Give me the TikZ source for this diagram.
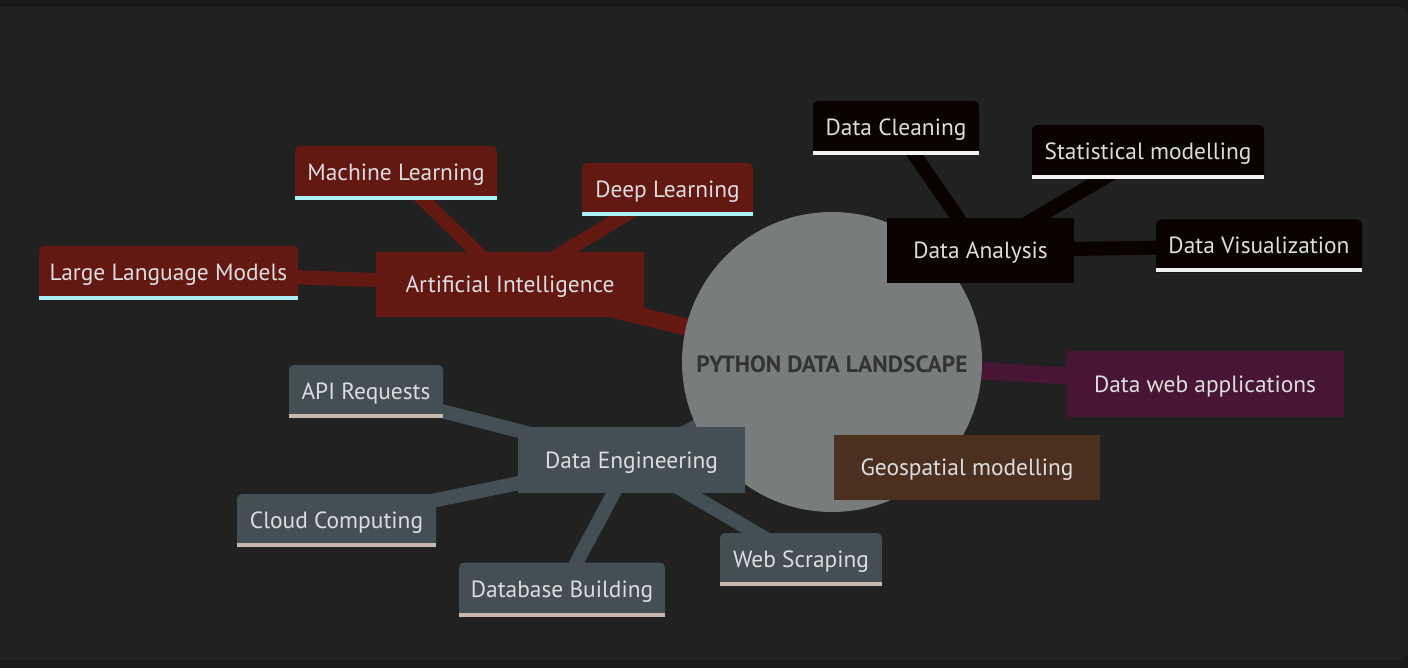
\documentclass[tikz,border=0pt]{standalone}
\usepackage{fontspec}
\setmainfont{PT Sans}
\pgfdeclarelayer{bgl}
\pgfdeclarelayer{edgel}
\pgfdeclarelayer{boxl}
\pgfsetlayers{bgl,edgel,boxl,main}
\definecolor{outerbg}{HTML}{1A1A1A}
\definecolor{innerbg}{HTML}{212121}
\definecolor{rootc}{HTML}{787C7D}
\definecolor{roottext}{HTML}{333333}
\definecolor{aic}{HTML}{641812}
\definecolor{aiu}{HTML}{AAF0F5}
\definecolor{dac}{HTML}{0A0101}
\definecolor{dau}{HTML}{F2F2F2}
\definecolor{dwc}{HTML}{481535}
\definecolor{geoc}{HTML}{4B3020}
\definecolor{dec}{HTML}{434F55}
\definecolor{deu}{HTML}{C9B8B0}
\definecolor{txt}{HTML}{DDDDDD}
\tikzset{
  lbl/.style={text=txt, font=\fontsize{23.4}{27}\selectfont, inner sep=0pt, outer sep=0pt, text height=20pt, text depth=4pt},
  rootlbl/.style={text=roottext, font=\fontsize{23.5}{27}\selectfont\bfseries, inner sep=0pt, outer sep=0pt, text height=22pt, text depth=2pt, circle, minimum size=300pt},
  edgeroot/.style={line width=17pt},
  edgeleaf/.style={line width=14pt},
}
\newcommand\mmleaf[3]{%
  \fill[#2] (#1.south west) [rounded corners=5pt] -- (#1.north west) -- (#1.north east) [sharp corners] -- (#1.south east) -- cycle;
  \fill[#3] ([yshift=4pt]#1.south west) rectangle (#1.south east);
}
\newcommand\mmbox[2]{\fill[#2] (#1.south west) rectangle (#1.north east);}
\begin{document}
\begin{tikzpicture}[x=1pt,y=-1pt]
\begin{pgfonlayer}{bgl}
\fill[outerbg] (0,0) rectangle (1408,668);
\fill[innerbg] (0,7) [rounded corners=8pt] -- (1408,7) -- (1408,660) [sharp corners] -- (0,660) -- cycle;
\end{pgfonlayer}
% root
\node[rootlbl] (root) at (832,362) {PYTHON DATA LANDSCAPE};
% branches
\node[lbl, minimum width=268pt, minimum height=65pt] (ai) at (510,284.5) {Artificial Intelligence};
\node[lbl, minimum width=187pt, minimum height=65pt] (da) at (980.5,250.5) {Data Analysis};
\node[lbl, minimum width=278pt, minimum height=66pt] (dw) at (1205,384) {Data web applications};
\node[lbl, minimum width=266pt, minimum height=65pt] (geo) at (967,467.5) {Geospatial modelling};
\node[lbl, minimum width=227pt, minimum height=66pt] (de) at (631.5,460) {Data Engineering};
% leaves
\node[lbl, minimum width=202pt, minimum height=54pt] (ml) at (396,173) {Machine Learning};
\node[lbl, minimum width=171pt, minimum height=53pt] (dl) at (667.5,189.5) {Deep Learning};
\node[lbl, minimum width=259pt, minimum height=54pt] (llm) at (168.5,273) {Large Language Models};
\node[lbl, minimum width=166pt, minimum height=54pt] (dc) at (896,128) {Data Cleaning};
\node[lbl, minimum width=232pt, minimum height=54pt] (sm) at (1148,152) {Statistical modelling};
\node[lbl, minimum width=206pt, minimum height=53pt] (dv) at (1259,246) {Data Visualization};
\node[lbl, minimum width=154pt, minimum height=53pt] (api) at (366,391.5) {API Requests};
\node[lbl, minimum width=199pt, minimum height=53pt] (cc) at (336.5,520.5) {Cloud Computing};
\node[lbl, minimum width=206pt, minimum height=54pt] (db) at (562,589.5) {Database Building};
\node[lbl, minimum width=162pt, minimum height=53pt] (ws) at (801,559.5) {Web Scraping};
\begin{pgfonlayer}{boxl}
\fill[rootc] (root.center) circle[radius=150pt];
\mmbox{ai}{aic}
\mmbox{da}{dac}
\mmbox{dw}{dwc}
\mmbox{geo}{geoc}
\mmbox{de}{dec}
\mmleaf{ml}{aic}{aiu}
\mmleaf{dl}{aic}{aiu}
\mmleaf{llm}{aic}{aiu}
\mmleaf{dc}{dac}{dau}
\mmleaf{sm}{dac}{dau}
\mmleaf{dv}{dac}{dau}
\mmleaf{api}{dec}{deu}
\mmleaf{cc}{dec}{deu}
\mmleaf{db}{dec}{deu}
\mmleaf{ws}{dec}{deu}
\end{pgfonlayer}
\begin{pgfonlayer}{edgel}
\draw[edgeroot, aic] (root.center) -- (ai.center);
\draw[edgeroot, dac] (root.center) -- (da.center);
\draw[edgeroot, dwc] (root.center) -- (dw.center);
\draw[edgeroot, geoc] (root.center) -- (geo.center);
\draw[edgeroot, dec] (root.center) -- (de.center);
\draw[edgeleaf, aic] (ai.center) -- (ml.center);
\draw[edgeleaf, aic] (ai.center) -- (dl.center);
\draw[edgeleaf, aic] (ai.center) -- (llm.center);
\draw[edgeleaf, dac] (da.center) -- (dc.center);
\draw[edgeleaf, dac] (da.center) -- (sm.center);
\draw[edgeleaf, dac] (da.center) -- (dv.center);
\draw[edgeleaf, dec] (de.center) -- (api.center);
\draw[edgeleaf, dec] (de.center) -- (cc.center);
\draw[edgeleaf, dec] (de.center) -- (db.center);
\draw[edgeleaf, dec] (de.center) -- (ws.center);
\end{pgfonlayer}
\end{tikzpicture}
\end{document}
